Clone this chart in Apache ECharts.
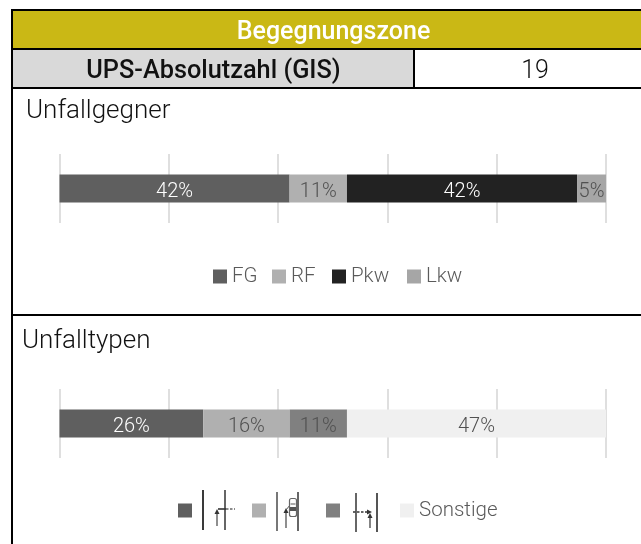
<!DOCTYPE html>
<html><head><meta charset="utf-8">
<style>html,body{margin:0;padding:0;background:#fff}#c{width:641px;height:544px}</style>
<script src="https://cdn.jsdelivr.net/npm/echarts@6/dist/echarts.min.js"></script>
</head><body><div id="c"></div>
<script>
const title = 'Begegnungszone';
const rowLabel = 'UPS-Absolutzahl (GIS)';
const rowValue = '19';
const heading1 = 'Unfallgegner';
const heading2 = 'Unfalltypen';
const names1 = ['FG', 'RF', 'Pkw', 'Lkw'];
const values1 = [42.1, 10.5, 42.1, 5.3];
const colors1 = ['#5f5f5f', '#b0b0b0', '#222222', '#a6a6a6'];
const names2 = ['Typ A', 'Typ B', 'Typ C', 'Sonstige'];
const values2 = [26.3, 15.8, 10.5, 47.4];
const colors2 = ['#5f5f5f', '#b0b0b0', '#808080', '#f0f0f0'];
const labelColors1 = ['#ffffff', '#505050', '#ffffff', '#505050'];
const labelColors2 = ['#ffffff', '#505050', '#505050', '#505050'];

const FONT = 'Roboto';
const legendLeft1 = [213, 272, 332, 407];
const legendLeft2 = [178, 252, 326, 400];

function seriesFor(names, values, colors, labelColors, idx) {
  return names.map((n, i) => ({
    name: n, type: 'bar', stack: 's' + idx, xAxisIndex: idx, yAxisIndex: idx,
    barWidth: 28, data: [values[i]],
    itemStyle: { color: colors[i] },
    label: {
      show: true, position: 'inside', color: labelColors[i], offset: [0, 3],
      fontFamily: FONT, fontWeight: 300, fontSize: 20,
      formatter: p => Math.round(p.value) + '%'
    }
  }));
}
function axes(idx) {
  return {
    x: { type: 'value', gridIndex: idx, min: 0, max: 100, interval: 20,
      axisLabel: { show: false }, axisLine: { show: false }, axisTick: { show: false },
      splitLine: { show: true, lineStyle: { color: '#dfdfdf', width: 2 } } },
    y: { type: 'category', gridIndex: idx, data: [''], axisLabel: { show: false },
      axisLine: { show: false }, axisTick: { show: false }, splitLine: { show: false } }
  };
}
function legendsFor(names, lefts, top, hideText) {
  return names.map((n, i) => ({
    data: [n], left: lefts[i], top: top, padding: 0, itemWidth: 14, itemHeight: 14, itemGap: 0,
    selectedMode: false, icon: 'rect',
    formatter: hideText[i] ? ' ' : '{name}',
    textStyle: { fontFamily: FONT, fontWeight: 300, fontSize: 20.5, color: '#5a5a5a' }
  }));
}
const txt = (x, y, s, fs, col, align, weight) => ({
  type: 'text', x, y, z: 10,
  style: { text: s, font: `${weight||300} ${fs}px ${FONT}`, fill: col, align: align||'left', verticalAlign: 'middle' }
});
const rect = (x, y, w, h, fill) => ({ type: 'rect', z: 1, shape: { x, y, width: w, height: h }, style: { fill } });
const ln = (x1, y1, x2, y2, col, w, dash) => ({
  type: 'line', z: 10, shape: { x1, y1, x2, y2 },
  style: { stroke: col, lineWidth: w, lineDash: dash || null }
});
const tri = (x, y, dir) => ({
  type: 'polygon', z: 10,
  shape: { points: dir === 'up' ? [[x - 2.5, y + 5], [x + 2.5, y + 5], [x, y]] : [[x - 5, y - 2.5], [x - 5, y + 2.5], [x, y]] },
  style: { fill: '#333' }
});

const icons = [
  ln(203, 490, 203, 530, '#3a3a3a', 2), ln(225, 490, 225, 530, '#666', 2),
  ln(226, 509, 235, 509, '#666', 1.4, [2.5, 1.5]), ln(218, 509, 226, 509, '#333', 1.6),
  ln(217, 526, 217, 512, '#444', 1.2), tri(217, 509, 'up'),
  ln(277, 492, 277, 531, '#777', 2), ln(298, 492, 298, 531, '#666', 2),
  ln(286, 528, 286, 512, '#444', 1.2), tri(286, 508, 'up'),
  ln(286, 510, 290, 505, '#555', 1),
  { type: 'rect', z: 10, shape: { x: 289.5, y: 498.5, width: 7, height: 18, r: 2 }, style: { fill: '#fff', stroke: '#666', lineWidth: 1.2 } },
  { type: 'rect', z: 11, shape: { x: 290.5, y: 503, width: 5, height: 2 }, style: { fill: '#aaa' } },
  { type: 'rect', z: 11, shape: { x: 290, y: 507, width: 6, height: 4 }, style: { fill: '#555' } },
  ln(356, 493, 356, 532, '#666', 2), ln(377, 493, 377, 532, '#555', 2),
  ln(353, 512, 367, 512, '#333', 1.4, [2.5, 1.5]), tri(372, 512, 'right'),
  ln(370, 528, 370, 518, '#333', 1.2), tri(370, 513, 'up')
];

const a1 = axes(0), a2 = axes(1);
const option = {
  animation: false,
  textStyle: { fontFamily: FONT },
  grid: [
    { left: 59.5, right: 35, top: 154, height: 69 },
    { left: 59.5, right: 35, top: 389, height: 69 }
  ],
  xAxis: [a1.x, a2.x], yAxis: [a1.y, a2.y],
  legend: [...legendsFor(names1, legendLeft1, 266, [0, 0, 0, 0]),
           ...legendsFor(names2, legendLeft2, 500, [1, 1, 1, 0])],
  series: [...seriesFor(names1, values1, colors1, labelColors1, 0),
           ...seriesFor(names2, values2, colors2, labelColors2, 1)],
  graphic: [
    rect(13, 11, 628, 37, '#cab815'),
    rect(13, 50, 401, 37, '#d9d9d9'),
    ln(641, 10, 11, 10, '#000', 2), ln(12, 9, 12, 544, '#000', 2),
    ln(11, 49, 641, 49, '#000', 2), ln(11, 88, 641, 88, '#000', 2),
    ln(414, 49, 414, 88, '#000', 2), ln(11, 315, 641, 315, '#000', 2),
    txt(333.5, 33, title, 25, '#ffffff', 'center', 500),
    txt(213.5, 72, rowLabel, 25.3, '#111', 'center', 500),
    txt(535, 72, rowValue, 25, '#111', 'center', 300),
    txt(26, 111, heading1, 26, '#111'),
    txt(22, 341, heading2, 26, '#111'),
    ...icons
  ]
};
echarts.init(document.getElementById('c'), null, { renderer: 'canvas' }).setOption(option);
</script></body></html>
